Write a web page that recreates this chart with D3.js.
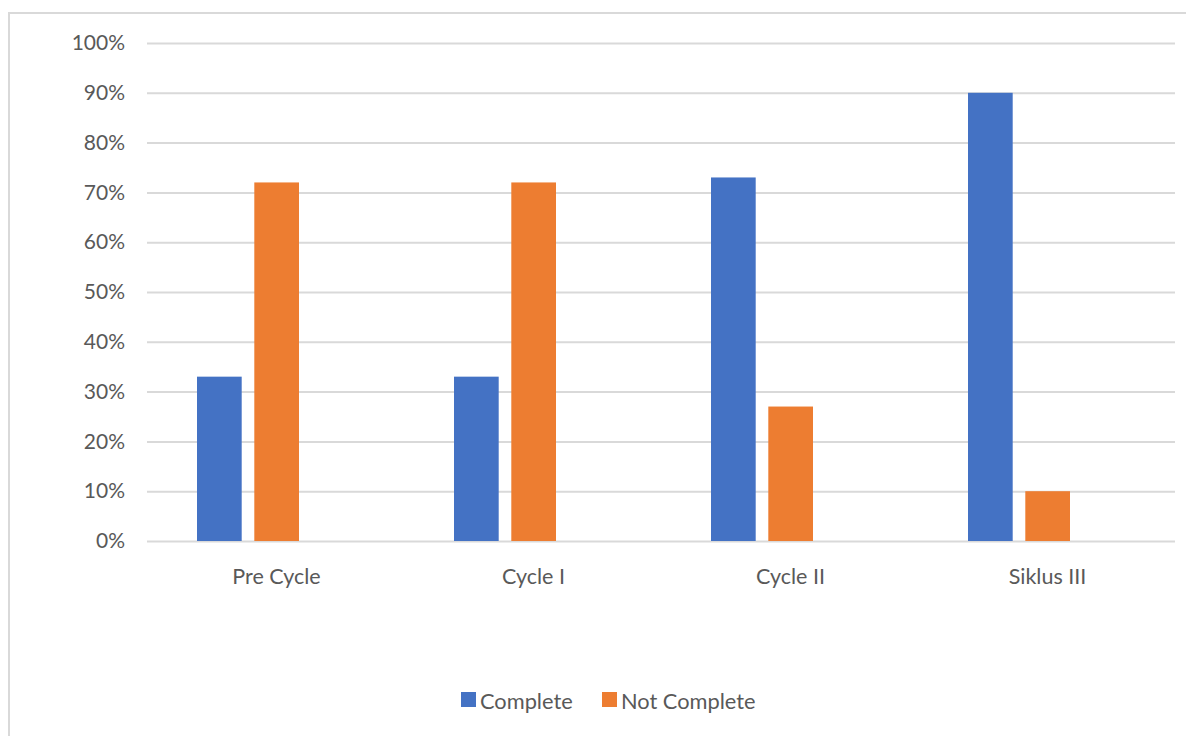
<!DOCTYPE html>
<html>
<head>
<meta charset="utf-8">
<script src="https://cdn.jsdelivr.net/npm/d3@7"></script>
<style>
  html, body { margin: 0; padding: 0; background: #fff; }
  svg { display: block; }
  text { font-family: Lato, "Open Sans", sans-serif; fill: #595959; }
</style>
</head>
<body>
<div id="chart"></div>
<script>
// Chart data
const categories = ["Pre Cycle", "Cycle I", "Cycle II", "Siklus III"];
const seriesNames = ["Complete", "Not Complete"];
const completeValues = [33, 33, 73, 90];
const notCompleteValues = [72, 72, 27, 10];
const yTicks = [0, 10, 20, 30, 40, 50, 60, 70, 80, 90, 100];
const seriesColors = ["#4472C4", "#ED7D31"];

const W = 1186, H = 736;
const plot = { left: 147, right: 1175, top: 43, bottom: 541 };

const svg = d3.select("#chart").append("svg")
  .attr("width", W).attr("height", H);

// chart-area frame
svg.append("rect")
  .attr("x", 9).attr("y", 13)
  .attr("width", 1300).attr("height", 900)
  .attr("fill", "none").attr("stroke", "#d9d9d9").attr("stroke-width", 2);

const x0 = d3.scaleBand().domain(categories).range([plot.left, plot.right]);
const x1 = d3.scaleBand().domain(seriesNames).range([50, 152]).paddingInner(0.22);
const y = d3.scaleLinear().domain([0, 100]).range([plot.bottom, plot.top]);
const color = d3.scaleOrdinal().domain(seriesNames).range(seriesColors);

// gridlines + y labels via axis
const yAxis = d3.axisLeft(y)
  .tickValues(yTicks)
  .tickFormat(d => d + "%")
  .tickSize(-(plot.right - plot.left))
  .tickPadding(22);

const gy = svg.append("g")
  .attr("transform", `translate(${plot.left},0)`)
  .call(yAxis);
gy.select(".domain").remove();
gy.selectAll(".tick line").attr("stroke", "#d9d9d9").attr("stroke-width", 2);
gy.selectAll(".tick text")
  .style("font-size", "21px")
  .attr("fill", "#595959");

// bars
const rows = categories.map((c, i) => ({
  category: c,
  values: [
    { key: seriesNames[0], value: completeValues[i] },
    { key: seriesNames[1], value: notCompleteValues[i] }
  ]
}));

const groups = svg.append("g").selectAll("g")
  .data(rows).join("g")
  .attr("transform", d => `translate(${x0(d.category)},0)`);

groups.selectAll("rect")
  .data(d => d.values).join("rect")
  .attr("x", d => x1(d.key))
  .attr("width", x1.bandwidth())
  .attr("y", d => y(d.value))
  .attr("height", d => y(0) - y(d.value))
  .attr("fill", d => color(d.key));

// category axis labels
const xAxis = d3.axisBottom(x0).tickSize(0).tickPadding(28);
const gx = svg.append("g")
  .attr("transform", `translate(1,${plot.bottom})`)
  .call(xAxis);
gx.select(".domain").remove();
gx.selectAll(".tick text")
  .style("font-size", "21.5px")
  .attr("fill", "#595959");

// legend
const legendItems = [
  { key: seriesNames[0], x: 461 },
  { key: seriesNames[1], x: 602 }
];
const lg = svg.append("g").selectAll("g")
  .data(legendItems).join("g")
  .attr("transform", d => `translate(${d.x},692)`);
lg.append("rect")
  .attr("width", 15).attr("height", 15)
  .attr("fill", d => color(d.key));
lg.append("text")
  .attr("x", 19).attr("y", 17)
  .style("font-size", "21.8px")
  .text(d => d.key);
</script>
</body>
</html>
